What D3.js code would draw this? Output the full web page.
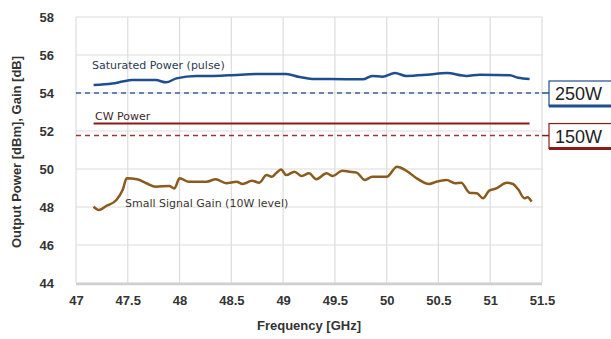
<!DOCTYPE html>
<html><head><meta charset="utf-8">
<script src="https://cdn.jsdelivr.net/npm/d3@7"></script>
<style>body{margin:0;background:#fff}svg{display:block}</style>
</head><body>
<script>
const xTicks = [47, 47.5, 48, 48.5, 49, 49.5, 50, 50.5, 51, 51.5];
const yTicks = [44, 46, 48, 50, 52, 54, 56, 58];

const satFreq = [47.17,47.35,47.45,47.54,47.77,47.87,47.97,48.16,48.32,48.48,48.77,49.03,49.16,49.28,49.61,49.77,49.86,49.96,50.08,50.19,50.39,50.58,50.77,50.9,51.19,51.27,51.38];
const satPower = [54.42,54.5,54.6,54.68,54.68,54.56,54.77,54.9,54.9,54.93,55.0,55.0,54.84,54.74,54.73,54.72,54.9,54.86,55.05,54.9,54.96,55.05,54.9,54.96,54.93,54.8,54.74];

const gainFreq = [47.17,47.22,47.29,47.39,47.45,47.49,47.59,47.68,47.77,47.9,47.95,48.0,48.09,48.26,48.35,48.45,48.55,48.61,48.7,48.77,48.84,48.89,48.93,48.98,49.03,49.11,49.18,49.25,49.32,49.42,49.48,49.57,49.64,49.71,49.79,49.86,50.0,50.1,50.19,50.29,50.41,50.48,50.58,50.66,50.72,50.8,50.87,50.93,50.99,51.06,51.16,51.22,51.27,51.33,51.36,51.4];
const gainValue = [48.02,47.84,48.05,48.37,48.89,49.51,49.46,49.25,49.07,49.11,48.98,49.51,49.33,49.33,49.46,49.25,49.33,49.21,49.38,49.28,49.68,49.59,49.77,49.98,49.68,49.86,49.63,49.77,49.46,49.77,49.63,49.91,49.86,49.81,49.42,49.59,49.59,50.12,49.91,49.51,49.21,49.33,49.42,49.25,49.28,48.75,48.72,48.46,48.86,48.98,49.28,49.21,48.93,48.46,48.51,48.28];

const cwRange = [47.17, 51.38];
const cwPower = 52.4;
const refLevels = [54.0, 51.76];
const refLabels = ["250W", "150W"];

const W = 611, H = 339;
const m = {left: 76, right: 542, top: 17, bottom: 283};
const svg = d3.select("body").append("svg").attr("width", W).attr("height", H);
const x = d3.scaleLinear().domain([47, 51.5]).range([m.left, m.right]);
const y = d3.scaleLinear().domain([44, 58]).range([m.bottom, m.top]);

const tickFont = "'Liberation Sans', Arial, sans-serif";
// grid
svg.append("g").selectAll("line").data(yTicks).join("line")
  .attr("x1", m.left).attr("x2", m.right).attr("y1", d => y(d)).attr("y2", d => y(d))
  .attr("stroke", "#dcdcdc").attr("stroke-width", 1.2);
svg.append("g").selectAll("line").data(xTicks).join("line")
  .attr("x1", d => x(d)).attr("x2", d => x(d)).attr("y1", m.top).attr("y2", m.bottom)
  .attr("stroke", "#dcdcdc").attr("stroke-width", 1.2);
svg.append("line").attr("x1", m.left).attr("x2", m.right).attr("y1", m.bottom + 1).attr("y2", m.bottom + 1)
  .attr("stroke", "#cfcfcf").attr("stroke-width", 2.5);

// axes labels
const xAxis = d3.axisBottom(x).tickValues(xTicks).tickSize(0).tickPadding(13).tickFormat(d => d);
const gx = svg.append("g").attr("transform", `translate(0,${m.bottom})`).call(xAxis);
gx.select(".domain").remove();
gx.selectAll("text").attr("font-family", tickFont).attr("font-weight", "bold").attr("font-size", 13).attr("fill", "#333");
const yAxis = d3.axisLeft(y).tickValues(yTicks).tickSize(0).tickPadding(22);
const gy = svg.append("g").attr("transform", `translate(${m.left},0)`).call(yAxis);
gy.select(".domain").remove();
gy.selectAll("text").attr("font-family", tickFont).attr("font-weight", "bold").attr("font-size", 13).attr("fill", "#333");

svg.append("text").attr("x", (m.left + m.right) / 2).attr("y", 330).attr("text-anchor", "middle")
  .attr("font-family", tickFont).attr("font-weight", "bold").attr("font-size", 13).attr("fill", "#333")
  .text("Frequency [GHz]");
svg.append("text").attr("transform", `translate(21,${(m.top + m.bottom) / 2 + 2}) rotate(-90)`)
  .attr("text-anchor", "middle").attr("font-family", tickFont).attr("font-weight", "bold")
  .attr("font-size", 13).attr("fill", "#333").text("Output Power [dBm], Gain [dB]");

// reference dashed lines + boxes
const refColors = ["#3f6299", "#963838"];
const boxColors = ["#1f4e8c", "#8b1a1a"];
refLevels.forEach((lv, i) => {
  svg.append("line").attr("x1", m.left).attr("x2", m.right - 3).attr("y1", y(lv)).attr("y2", y(lv))
    .attr("stroke", refColors[i]).attr("stroke-width", 1.5).attr("stroke-dasharray", "5,4");
  svg.append("line").attr("x1", m.right).attr("x2", 549).attr("y1", y(lv)).attr("y2", y(lv))
    .attr("stroke", boxColors[i]).attr("stroke-width", 1.5);
  const by = y(lv) - 12;
  svg.append("rect").attr("x", 549).attr("y", by).attr("width", 70).attr("height", 25)
    .attr("fill", "#fff").attr("stroke", boxColors[i]).attr("stroke-width", 1.2);
  svg.append("line").attr("x1", 549).attr("x2", 611).attr("y1", by + 25).attr("y2", by + 25)
    .attr("stroke", boxColors[i]).attr("stroke-width", 3);
  svg.append("text").attr("x", 555).attr("y", by + 19).attr("font-family", "'Liberation Sans', Arial, sans-serif")
    .attr("font-size", 18).attr("fill", "#222").text(refLabels[i]);
});

// CW power
svg.append("line").attr("x1", x(cwRange[0])).attr("x2", x(cwRange[1])).attr("y1", y(cwPower)).attr("y2", y(cwPower))
  .attr("stroke", "#8b1a1a").attr("stroke-width", 2);

const line = d3.line().curve(d3.curveMonotoneX);
svg.append("path").attr("d", line(satFreq.map((f, i) => [x(f), y(satPower[i])])))
  .attr("fill", "none").attr("stroke", "#1f4e8c").attr("stroke-width", 2.5);
svg.append("path").attr("d", line(gainFreq.map((f, i) => [x(f), y(gainValue[i])])))
  .attr("fill", "none").attr("stroke", "#8a5a1e").attr("stroke-width", 2.5);

// annotations
const annFont = "'DejaVu Sans', Verdana, sans-serif";
svg.append("text").attr("x", 92).attr("y", 69).attr("font-family", annFont).attr("font-size", 11)
  .attr("fill", "#2b3a55").text("Saturated Power (pulse)");
svg.append("text").attr("x", 95).attr("y", 120).attr("font-family", annFont).attr("font-size", 11)
  .attr("fill", "#3a2a2a").text("CW Power");
svg.append("text").attr("x", 125).attr("y", 207).attr("font-family", annFont).attr("font-size", 11)
  .attr("fill", "#3a3530").text("Small Signal Gain (10W level)");
</script>
</body></html>
